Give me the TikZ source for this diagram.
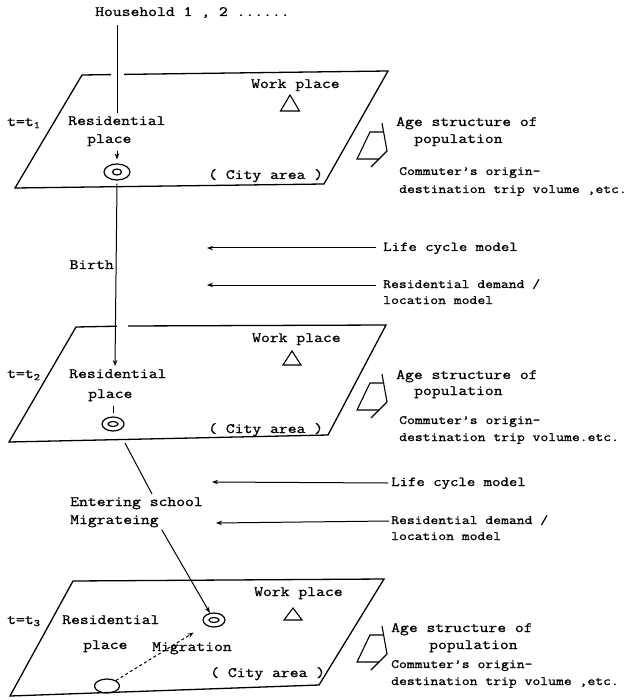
\documentclass[tikz,border=0pt]{standalone}
\usepackage{fontspec}
\setmainfont{Latin Modern Mono}[FakeStretch=1.2, FakeBold=1]
\usetikzlibrary{arrows.meta,shapes.geometric}
\begin{document}
\begin{tikzpicture}[x=1pt,y=-1pt,
  lbl/.style={inner sep=0pt, anchor=west, text height=8.5pt, text depth=2.5pt, font=\fontsize{14.3}{17}\selectfont},
  sml/.style={lbl, font=\fontsize{12.7}{15}\selectfont},
  mdl/.style={lbl, font=\fontsize{13.6}{16}\selectfont},
  plane/.style={line width=1.3pt, line join=miter},
  conn/.style={line width=1pt},
  arr/.style={conn, -{Stealth[length=6pt,width=4.5pt]}},
  ring/.style={draw, ellipse, line width=1.2pt, inner sep=0pt},
  agesym/.pic={
    \draw[line width=1.1pt] (0,0) -- (5,28) -- (-11,44);
    \draw[line width=1.1pt] (1,9) -- (-12,9) -- (-25,36) -- (-3,36);
  }
]
\useasboundingbox (0,0) rectangle (633,700);

% ---------- top ----------
\node[lbl] (hh) at (95,13) {Household 1 , 2 ......};
\coordinate (hhA) at (117,25);
\coordinate (hhB) at (117,113);
\draw[conn] (hhA) -- (hhB);

% ---------- plane 1 ----------
\draw[plane] (111,74.6) -- (82,75) -- (15,188) -- (324,184) -- (388,71) -- (124,74.4);
\node[lbl] (t1) at (7,123) {t=t\textsubscript{1}};
\node[lbl] (res1) at (68,122) {Residential};
\node[lbl] (pl1) at (87,140) {place};
\node[lbl] (wp1) at (251,85) {Work place};
\draw[line width=1.1pt] (290,95) -- (299.5,111) -- (280.5,111) -- cycle;
\node[lbl] (ca1) at (208,176) {( City area )};
\node[ring, minimum width=26pt, minimum height=16pt] (e1) at (117,172) {};
\node[ring, minimum width=9pt, minimum height=6pt] (e1i) at (117,172) {};
\draw[arr, shorten <=5pt, shorten >=4pt] (pl1.south -| e1) -- (e1.north);
\pic at (382,123) {agesym};
\node[lbl] (age1) at (396,123) {Age structure of};
\node[lbl] (pop1) at (414,140) {population};
\node[sml] (cm1) at (399,172) {Commuter's origin-};
\node[sml] (ds1) at (399,190) {destination trip volume ,etc.};

% ---------- between 1 and 2 ----------
\coordinate (tip2) at (115,366);
\draw[arr] ([yshift=-3pt]e1.south) -- (tip2);
\node[lbl, anchor=east] (birth) at (114,266) {Birth};
\node[mdl] (lc1) at (383,248) {Life cycle model};
\node[sml] (rd1) at (383,285) {Residential demand /};
\node[sml] (lm1) at (383,301) {location model};
\coordinate (lc1tip) at (207,248);
\coordinate (rd1tip) at (207,285);
\draw[arr] ([xshift=-7pt]lc1.west) -- (lc1tip);
\draw[arr] ([xshift=-7pt]rd1.west) -- (rd1tip);

% ---------- plane 2 ----------
\draw[plane] (117,326.2) -- (76,327) -- (9,442) -- (328,435) -- (386,325) -- (128,326);
\node[lbl] (t2) at (7,375) {t=t\textsubscript{2}};
\node[lbl] (res2) at (69,375) {Residential};
\node[lbl] (pl2) at (88,395) {place};
\node[lbl] (wp2) at (252,339) {Work place};
\draw[line width=1.1pt] (292,351) -- (301,365) -- (283,365) -- cycle;
\node[lbl] (ca2) at (208,430) {( City area )};
\node[ring, minimum width=22pt, minimum height=14pt] (e2) at (113,424) {};
\node[ring, minimum width=10pt, minimum height=5pt] (e2i) at (113,424) {};
\draw[conn, shorten <=5pt, shorten >=3pt] (pl2.south -| e2) -- (e2.north);
\pic at (382,374) {agesym};
\node[lbl] (age2) at (396,376) {Age structure of};
\node[lbl] (pop2) at (414,392) {population};
\node[sml] (cm2) at (399,421) {Commuter's origin-};
\node[sml] (ds2) at (399,438) {destination trip volume.etc.};

% ---------- between 2 and 3 ----------
\coordinate (p2b) at (125,443);
\coordinate (esA) at (152,494);
\draw[conn] (p2b) -- (esA);
\node[lbl] (es) at (70,503) {Entering school};
\node[lbl] (mig) at (70,521) {Migrateing};
\node[mdl] (lc2) at (391,483) {Life cycle model};
\node[sml] (rd2) at (391,521) {Residential demand /};
\node[sml] (lm2) at (391,537) {location model};
\coordinate (lc2tip) at (212,482);
\coordinate (rd2tip) at (216,523);
\draw[arr] ([xshift=-3pt]lc2.west) -- (lc2tip);
\draw[arr] ([xshift=-2pt]rd2.west) -- (rd2tip);

% ---------- plane 3 ----------
\draw[plane] (73,581) -- (10,696) -- (319,685) -- (384,579) -- cycle;
\node[lbl] (t3) at (7,621) {t=t\textsubscript{3}};
\node[lbl] (res3) at (62,621) {Residential};
\node[lbl] (pl3) at (83,646) {place};
\node[lbl] (mg3) at (152,648) {Migration};
\node[lbl] (wp3) at (254,593) {Work place};
\draw[line width=1.1pt] (293,608) -- (302,620) -- (284,620) -- cycle;
\node[lbl] (ca3) at (210,674) {( City area )};
\node[ring, minimum width=22pt, minimum height=14pt] (e3) at (214,620) {};
\node[ring, minimum width=10pt, minimum height=5pt] (e3i) at (214,620) {};
\node[ring, minimum width=25pt, minimum height=14pt] (e4) at (107,686) {};
\draw[arr] ([xshift=3pt,yshift=-3pt]mig.south east) -- (e3);
\draw[arr, dash pattern=on 3pt off 2.5pt, shorten >=14pt] (e4) -- (e3);
\pic at (382,626) {agesym};
\node[lbl] (age3) at (391,629) {Age structure of};
\node[lbl] (pop3) at (429,646) {population};
\node[sml] (cm3) at (391,665) {Commuter's origin-};
\node[sml] (ds3) at (391,682) {destination trip volume ,etc.};
\end{tikzpicture}
\end{document}
